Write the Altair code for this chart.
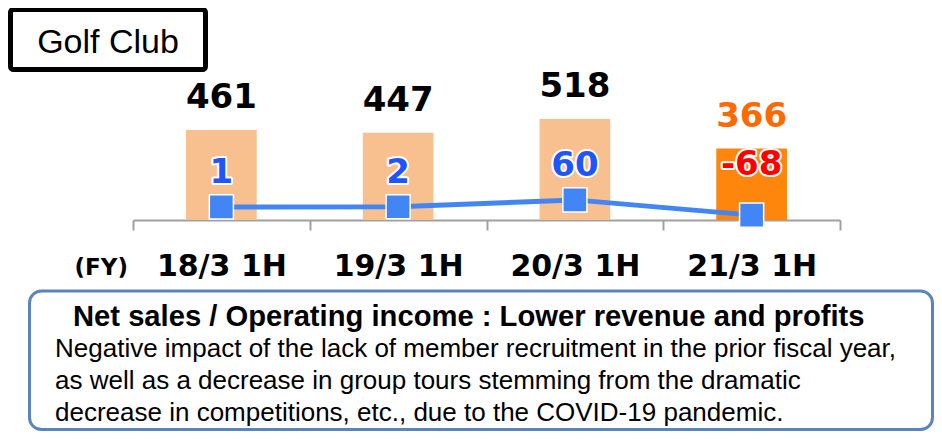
import altair as alt
import pandas as pd

# ---- data ----
periods = ["18/3 1H", "19/3 1H", "20/3 1H", "21/3 1H"]
net_sales = [461, 447, 518, 366]
operating_income = [1, 2, 60, -68]
current_period = "21/3 1H"

title_text = "Golf Club"
fy_label = "(FY)"
note_title = "Net sales / Operating income : Lower revenue and profits"
note_lines = [
    "Negative impact of the lack of member recruitment in the prior fiscal year,",
    "as well as a decrease in group tours stemming from the dramatic",
    "decrease in competitions, etc., due to the COVID-19 pandemic.",
]

df = pd.DataFrame({"period": periods, "sales": net_sales, "income": operating_income})
one = pd.DataFrame({"k": [0]})

W, H = 707, 212
BOLD = "DejaVu Sans"
ARIAL = "Liberation Sans"

is_cur = alt.datum.period == current_period

x = alt.X(
    "period:N", sort=periods,
    scale=alt.Scale(paddingInner=0, paddingOuter=0),
    axis=alt.Axis(
        title=None, labelAngle=0, labelFont=BOLD, labelFontWeight="bold",
        labelFontSize=30, labelColor="black", labelPadding=21,
        domainColor="#A0A0A0", domainWidth=2, tickColor="#A0A0A0",
        tickWidth=2, tickSize=10, tickBand="extent",
    ),
)
ys = alt.Scale(domain=[0, 1087], nice=False, zero=False)
yi = alt.Scale(domain=[-109, 1672], nice=False, zero=False)
y_sales = alt.Y("sales:Q", scale=ys, axis=None)
y_inc = alt.Y("income:Q", scale=yi, axis=None)

base = alt.Chart(df).transform_calculate(inc_lbl="'' + datum.income")

bars = base.mark_bar(width=alt.RelativeBandSize(0.4)).encode(
    x=x, y=y_sales,
    color=alt.condition(is_cur, alt.value("#FF860D"), alt.value("#F8C08F")),
)
sales_lbl = base.mark_text(
    baseline="alphabetic", dy=-22, font=BOLD, fontWeight="bold", fontSize=34
).encode(
    x=x, y=y_sales, text="sales:Q",
    color=alt.condition(is_cur, alt.value("#FF6A00"), alt.value("black")),
)

line = base.mark_line(color="#4285F4", strokeWidth=5).encode(x=x, y=y_inc)
pts = base.mark_point(
    shape="square", filled=True, size=580, color="#4285F4",
    stroke="white", strokeWidth=1.5, opacity=1,
).encode(x=x, y=y_inc)

def inc_labels(flt, dy, col):
    halo = base.transform_filter(flt).mark_text(
        baseline="alphabetic", dy=dy, font=BOLD, fontWeight="bold", fontSize=34,
        fill="white", stroke="white", strokeWidth=4, strokeJoin="round",
    ).encode(x=x, y=y_inc, text="inc_lbl:N")
    txt = base.transform_filter(flt).mark_text(
        baseline="alphabetic", dy=dy, font=BOLD, fontWeight="bold", fontSize=34,
        color=col,
    ).encode(x=x, y=y_inc, text="inc_lbl:N")
    return halo + txt

pos_lbl = inc_labels("datum.income >= 0", -24, "#1F55FF")
neg_lbl = inc_labels("datum.income < 0", -40, "#FF0000")

ann = alt.Chart(one)
title_box = ann.mark_rect(fill="white", stroke="black", strokeWidth=5, cornerRadius=3).encode(
    x=alt.value(-122.5), x2=alt.value(72.5), y=alt.value(1.5), y2=alt.value(61.5)
)
title_txt = ann.mark_text(
    align="center", baseline="alphabetic", font=ARIAL, fontSize=34, color="black"
).encode(x=alt.value(-25), y=alt.value(45), text=alt.value(title_text))
fy_txt = ann.mark_text(
    align="right", baseline="alphabetic", font=BOLD, fontWeight="bold", fontSize=23, color="black"
).encode(x=alt.value(-5), y=alt.value(267), text=alt.value(fy_label))

note_box = ann.mark_rect(fill="white", stroke="#5A84BE", strokeWidth=3, cornerRadius=12).encode(
    x=alt.value(-103.5), x2=alt.value(799.5), y=alt.value(283), y2=alt.value(421.5)
)
note_t = ann.mark_text(
    align="left", baseline="alphabetic", font=ARIAL, fontWeight="bold", fontSize=29.2, color="black"
).encode(x=alt.value(-60), y=alt.value(318), text=alt.value(note_title))
note_b = ann.mark_text(
    align="left", baseline="alphabetic", font=ARIAL, fontSize=26, color="black", lineHeight=32
).encode(x=alt.value(-78), y=alt.value(349), text=alt.value(note_lines))

chart = alt.layer(
    bars, line, pts, sales_lbl, pos_lbl, neg_lbl,
    title_box, title_txt, fy_txt, note_box, note_t, note_b,
).resolve_scale(y="independent").properties(
    width=W, height=H,
    autosize=alt.AutoSizeParams(type="none"),
    padding={"left": 125, "top": 0, "right": 94, "bottom": 211},
    background="white",
).configure_view(stroke=None)

chart.save("out.html", embed_options={"renderer": "svg", "actions": False})
